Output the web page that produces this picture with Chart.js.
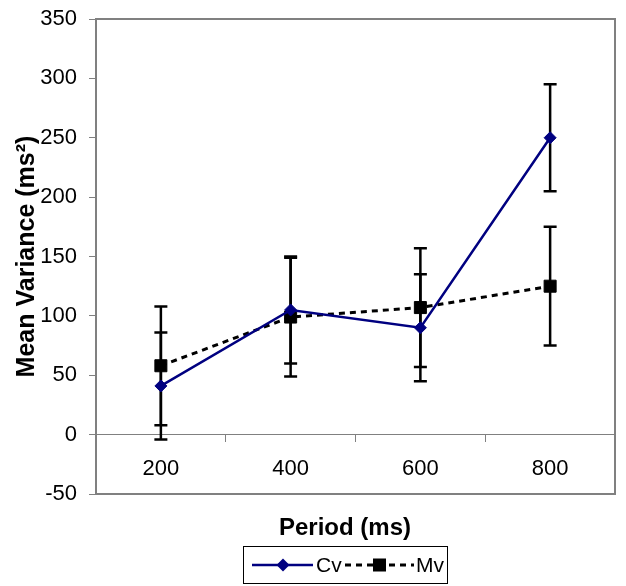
<!DOCTYPE html>
<html>
<head>
<meta charset="utf-8">
<script src="https://cdn.jsdelivr.net/npm/chart.js@4"></script>
<style>
  html, body { margin: 0; padding: 0; background: #fff; }
  #wrap { width: 626px; height: 586px; }
</style>
</head>
<body>
<div id="wrap"><canvas id="chart" width="626" height="586"></canvas></div>
<script>
// data
const periods = ['200', '400', '600', '800'];
const cvMeans = [41, 105, 90, 250];
const cvErrors = [45, 45, 45, 45];
const mvMeans = [58, 99, 107, 125];
const mvErrors = [50, 50, 50, 50];
const yMin = -50;
const yMax = 350;
const yStep = 50;

const FONT = '"Liberation Sans", Arial, sans-serif';

// vertical error bars with caps, drawn under the lines and markers
const errorBars = {
  id: 'errorBars',
  beforeDatasetsDraw(chart) {
    const { ctx, scales: { y } } = chart;
    ctx.save();
    ctx.strokeStyle = '#000';
    ctx.lineWidth = 2.5;
    chart.data.datasets.forEach((ds, i) => {
      const meta = chart.getDatasetMeta(i);
      ds.errors.forEach((err, j) => {
        const px = meta.data[j].x;
        const top = y.getPixelForValue(ds.data[j] + err);
        const bottom = y.getPixelForValue(ds.data[j] - err);
        ctx.beginPath();
        ctx.moveTo(px, top);
        ctx.lineTo(px, bottom);
        ctx.moveTo(px - 6.5, top);
        ctx.lineTo(px + 6.5, top);
        ctx.moveTo(px - 6.5, bottom);
        ctx.lineTo(px + 6.5, bottom);
        ctx.stroke();
      });
    });
    ctx.restore();
  }
};

// plot frame, x title and boxed legend like the Excel original
const frame = {
  id: 'frame',
  afterDraw(chart) {
    const { ctx, chartArea: a } = chart;
    ctx.save();
    ctx.strokeStyle = '#808080';
    ctx.lineWidth = 2;
    ctx.strokeRect(a.left, a.top, a.right - a.left, a.bottom - a.top);

    ctx.fillStyle = '#000';
    ctx.font = 'bold 24px ' + FONT;
    ctx.textAlign = 'center';
    ctx.textBaseline = 'middle';
    ctx.fillText('Period (ms)', 345, 528);

    // legend box
    ctx.strokeStyle = '#000';
    ctx.lineWidth = 1;
    ctx.strokeRect(243.5, 546.5, 204, 37);
    const ly = 565;
    ctx.font = '21px ' + FONT;
    ctx.textAlign = 'left';

    ctx.strokeStyle = '#000080';
    ctx.lineWidth = 2.5;
    ctx.beginPath();
    ctx.moveTo(252, ly);
    ctx.lineTo(313, ly);
    ctx.stroke();
    ctx.fillStyle = '#000080';
    ctx.beginPath();
    ctx.moveTo(283, ly - 6.5);
    ctx.lineTo(289.5, ly);
    ctx.lineTo(283, ly + 6.5);
    ctx.lineTo(276.5, ly);
    ctx.closePath();
    ctx.fill();
    ctx.fillStyle = '#000';
    ctx.fillText('Cv', 316, ly + 1);

    ctx.strokeStyle = '#000';
    ctx.lineWidth = 3;
    ctx.setLineDash([6, 5]);
    ctx.beginPath();
    ctx.moveTo(345, ly);
    ctx.lineTo(414, ly);
    ctx.stroke();
    ctx.setLineDash([]);
    ctx.fillRect(373, ly - 6.5, 13, 13);
    ctx.fillText('Mv', 416, ly + 1);
    ctx.restore();
  }
};

new Chart(document.getElementById('chart'), {
  type: 'line',
  data: {
    labels: periods,
    datasets: [
      {
        label: 'Cv',
        data: cvMeans,
        errors: cvErrors,
        borderColor: '#000080',
        backgroundColor: '#000080',
        borderWidth: 2.5,
        pointStyle: 'rectRot',
        pointRadius: 6,
        pointBorderWidth: 1,
        tension: 0
      },
      {
        label: 'Mv',
        data: mvMeans,
        errors: mvErrors,
        borderColor: '#000',
        backgroundColor: '#000',
        borderWidth: 3,
        borderDash: [6, 5],
        pointStyle: 'rect',
        pointRadius: 8.5,
        pointBorderWidth: 1,
        tension: 0
      }
    ]
  },
  options: {
    responsive: false,
    animation: false,
    layout: {
      padding: { left: 0, right: 11, top: 19, bottom: 92 }
    },
    plugins: {
      legend: { display: false },
      tooltip: { enabled: false }
    },
    scales: {
      x: {
        position: { y: 0 },
        offset: true,
        grid: {
          offset: true,
          drawOnChartArea: false,
          drawTicks: true,
          tickLength: 7,
          color: '#808080'
        },
        border: { display: true, color: '#808080', width: 1 },
        ticks: {
          color: '#000',
          padding: 14,
          font: { family: FONT, size: 22 }
        }
      },
      y: {
        min: yMin,
        max: yMax,
        ticks: {
          stepSize: yStep,
          color: '#000',
          padding: 12,
          font: { family: FONT, size: 22 }
        },
        grid: {
          drawOnChartArea: false,
          drawTicks: true,
          tickLength: 7,
          color: '#808080'
        },
        border: { display: false },
        title: {
          display: true,
          text: 'Mean Variance (ms²)',
          color: '#000',
          padding: { top: 12, bottom: 0 },
          font: { family: FONT, size: 25, weight: 'bold' }
        },
        afterFit(scale) {
          scale.width = 96;
          scale.paddingTop = 0;
          scale.paddingBottom = 0;
        }
      }
    }
  },
  plugins: [errorBars, frame]
});
</script>
</body>
</html>
